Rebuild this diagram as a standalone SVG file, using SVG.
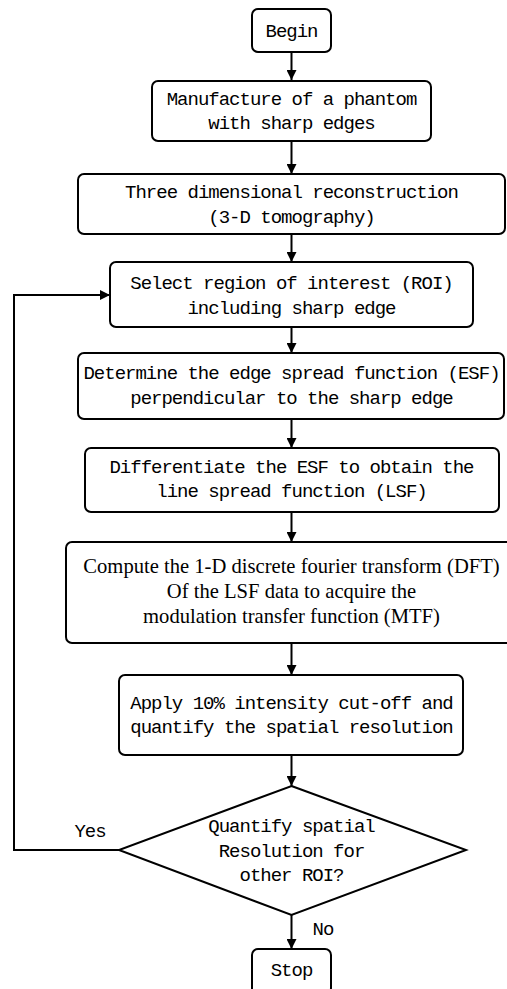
<svg xmlns="http://www.w3.org/2000/svg" width="507" height="989" viewBox="0 0 507 989">
<style>
.box{fill:#fff;stroke:#000;stroke-width:2}
.t{font-family:"Liberation Mono",monospace;font-size:19px;letter-spacing:-1px;fill:#000;text-anchor:middle}
.s{font-family:"Liberation Serif",serif;font-size:20.6px;fill:#000;text-anchor:middle}
.c{fill:none;stroke:#000;stroke-width:2}
</style>
<defs>
<marker id="ah" markerWidth="10" markerHeight="10" refX="10" refY="5" orient="auto" markerUnits="userSpaceOnUse">
<path d="M0,0 L10,5 L0,10 Z" fill="#000"/>
</marker>
</defs>
<rect width="507" height="989" fill="#fff"/>
<g id="connectors">
<line class="c" x1="291.5" y1="52" x2="291.5" y2="80" marker-end="url(#ah)"/>
<line class="c" x1="291.5" y1="141" x2="291.5" y2="174" marker-end="url(#ah)"/>
<line class="c" x1="291.5" y1="234" x2="291.5" y2="262" marker-end="url(#ah)"/>
<line class="c" x1="291.5" y1="327" x2="291.5" y2="353" marker-end="url(#ah)"/>
<line class="c" x1="291.5" y1="419" x2="291.5" y2="448" marker-end="url(#ah)"/>
<line class="c" x1="291.5" y1="512" x2="291.5" y2="542" marker-end="url(#ah)"/>
<line class="c" x1="291.5" y1="643" x2="291.5" y2="675" marker-end="url(#ah)"/>
<line class="c" x1="291.5" y1="755" x2="291.5" y2="786" marker-end="url(#ah)"/>
<line class="c" x1="291.5" y1="915" x2="291.5" y2="949" marker-end="url(#ah)"/>
<polyline class="c" points="119,850 14,850 14,295 110,295" marker-end="url(#ah)"/>
<text class="t" x="90" y="837">Yes</text>
<text class="t" x="323" y="935">No</text>
</g>
<g id="begin"><rect class="box" x="252" y="9" width="79" height="43" rx="6"/><text class="t" x="291.5" y="37">Begin</text></g>
<g id="manufacture"><rect class="box" x="152" y="81" width="279" height="60" rx="6"/><text class="t" x="291.5" y="105">Manufacture of a phantom</text><text class="t" x="291.5" y="129">with sharp edges</text></g>
<g id="reconstruction"><rect class="box" x="78" y="174" width="427" height="60" rx="6"/><text class="t" x="291.5" y="198">Three dimensional reconstruction</text><text class="t" x="291.5" y="223">(3-D tomography)</text></g>
<g id="select"><rect class="box" x="110" y="262" width="363" height="65" rx="6"/><text class="t" x="291.5" y="289">Select region of interest (ROI)</text><text class="t" x="291.5" y="314">including sharp edge</text></g>
<g id="determine"><rect class="box" x="78" y="353" width="426" height="66" rx="6"/><text class="t" x="291.5" y="379">Determine the edge spread function (ESF)</text><text class="t" x="291.5" y="404">perpendicular to the sharp edge</text></g>
<g id="differentiate"><rect class="box" x="85" y="448" width="414" height="64" rx="6"/><text class="t" x="291.5" y="473">Differentiate the ESF to obtain the</text><text class="t" x="291.5" y="497">line spread function (LSF)</text></g>
<g id="compute"><rect class="box" x="66" y="542" width="450" height="101" rx="6"/><text class="s" x="291.5" y="573">Compute the 1-D discrete fourier transform (DFT)</text><text class="s" x="291.5" y="598">Of the LSF data to acquire the</text><text class="s" x="291.5" y="623">modulation transfer function (MTF)</text></g>
<g id="apply"><rect class="box" x="119" y="675" width="344" height="80" rx="6"/><text class="t" x="291.5" y="709">Apply 10% intensity cut-off and</text><text class="t" x="291.5" y="733">quantify the spatial resolution</text></g>
<g id="decision"><polygon class="box" points="291.5,786 466,850 291.5,915 119,850"/><text class="t" x="291.5" y="832">Quantify spatial</text><text class="t" x="291.5" y="857">Resolution for</text><text class="t" x="291.5" y="881">other ROI?</text></g>
<g id="stop"><rect class="box" x="252" y="949" width="79" height="45" rx="6"/><text class="t" x="291.5" y="976">Stop</text></g>
</svg>
